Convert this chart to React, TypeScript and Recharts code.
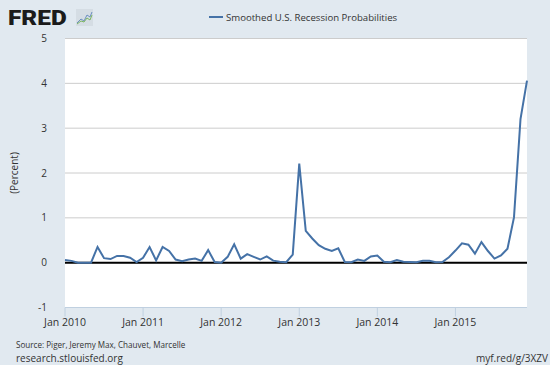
import React from "react";
import { LineChart, Line, XAxis, YAxis, CartesianGrid, ReferenceLine } from "recharts";

const years = ["2010", "2011", "2012", "2013", "2014", "2015"];
const monthNums = ["01", "02", "03", "04", "05", "06", "07", "08", "09", "10", "11", "12"];
const months: string[] = years.flatMap((y) => monthNums.map((m) => `${y}-${m}`));

const probabilities = [
  0.06, 0.04, 0.0, 0.0, 0.0, 0.35, 0.1, 0.08, 0.15, 0.15, 0.11, 0.015,
  0.11, 0.35, 0.05, 0.35, 0.26, 0.07, 0.03, 0.07, 0.09, 0.04, 0.28, 0.015,
  0.0, 0.13, 0.41, 0.09, 0.19, 0.13, 0.07, 0.14, 0.045, 0.02, 0.01, 0.18,
  2.21, 0.71, 0.54, 0.39, 0.31, 0.26, 0.32, 0.015, 0.01, 0.07, 0.04, 0.14,
  0.16, 0.02, 0.01, 0.06, 0.02, 0.015, 0.01, 0.04, 0.04, 0.01, 0.015, 0.12,
  0.27, 0.43, 0.4, 0.2, 0.46, 0.26, 0.09, 0.16, 0.31, 1.01, 3.2, 4.06,
];

const xTicks = ["2010-01", "2011-01", "2012-01", "2013-01", "2014-01", "2015-01"];
const xTickLabels = ["Jan 2010", "Jan 2011", "Jan 2012", "Jan 2013", "Jan 2014", "Jan 2015"];
const yTicks = [-1, 0, 1, 2, 3, 4, 5];

const seriesName = "Smoothed U.S. Recession Probabilities";
const data = months.map((d, i) => ({ date: d, value: probabilities[i] }));

const BG = "#e1e9f0";
const LINE = "#4572a7";
const FONT = "'Open Sans', sans-serif";

export default function App() {
  return (
    <div style={{ position: "absolute", left: 0, top: 0, width: 550, height: 365, background: BG, fontFamily: FONT, overflow: "hidden" }}>
      <div style={{ position: "absolute", left: 8, top: 4, fontFamily: "Roboto, sans-serif", fontWeight: 900, fontSize: 20, color: "#1b1b1b", letterSpacing: 0, lineHeight: "28px", transform: "scaleX(1.22)", transformOrigin: "left center" }}>
        FRED
      </div>
      <svg style={{ position: "absolute", left: 76, top: 9 }} width={17} height={17}>
        <rect x={0} y={0} width={17} height={17} fill="#d5dde4" />
        <polyline points="1,14 5,10 8,12 11,6 14,8 16,3" fill="none" stroke="#6b8fc0" strokeWidth={1} />
        <polyline points="1,15 5,12 8,13 11,9 14,11 16,6" fill="none" stroke="#7bb661" strokeWidth={1} />
      </svg>
      <div style={{ position: "absolute", left: 209, top: 9, display: "flex", alignItems: "center", fontSize: 9.6, color: "#333", whiteSpace: "nowrap" }}>
        <svg width={14} height={16} style={{ marginRight: 3 }}>
          <line x1={0} y1={8} x2={14} y2={8} stroke={LINE} strokeWidth={2} />
        </svg>
        <span>{seriesName}</span>
      </div>
      <div style={{ position: "absolute", left: 0, top: 0 }}>
        <LineChart width={550} height={365} data={data} margin={{ top: 38.5, right: 23, bottom: 37.5, left: 0 }}>
          <CartesianGrid vertical={false} horizontal={true} stroke="#cccccc" fill="#ffffff" />
          <XAxis
            dataKey="date"
            ticks={xTicks}
            interval={0}
            height={20}
            tickFormatter={(v: string) => xTickLabels[xTicks.indexOf(v)] ?? v}
            axisLine={{ stroke: "#c0d0e0" }}
            tickLine={{ stroke: "#c0d0e0" }}
            tickSize={9}
            tickMargin={2}
            tick={{ fill: "#333", fontSize: 10.5, fontFamily: FONT }}
          />
          <YAxis
            width={65}
            domain={[-1, 5]}
            ticks={yTicks}
            interval={0}
            axisLine={false}
            tickLine={false}
            tickSize={0}
            tickMargin={18}
            tick={{ fill: "#333", fontSize: 10, fontFamily: FONT }}
            label={{ value: "(Percent)", angle: -90, position: "insideLeft", offset: 14, style: { fill: "#333", fontSize: 10, fontFamily: FONT, textAnchor: "middle" } }}
          />
          <ReferenceLine y={0} stroke="#000" strokeWidth={2} />
          <Line type="linear" dataKey="value" name={seriesName} stroke={LINE} strokeWidth={2} dot={false} isAnimationActive={false} />
        </LineChart>
      </div>
      <div style={{ position: "absolute", left: 16, top: 338.5, fontSize: 8.1, color: "#333", whiteSpace: "nowrap" }}>
        Source: Piger, Jeremy Max, Chauvet, Marcelle
      </div>
      <div style={{ position: "absolute", left: 16, top: 350.5, fontSize: 10, color: "#333", whiteSpace: "nowrap" }}>
        research.stlouisfed.org
      </div>
      <div style={{ position: "absolute", right: 2, top: 350.5, fontSize: 10, color: "#333", whiteSpace: "nowrap" }}>
        myf.red/g/3XZV
      </div>
    </div>
  );
}
